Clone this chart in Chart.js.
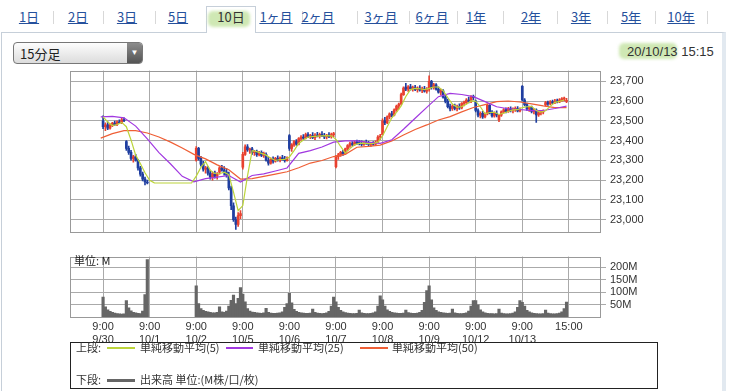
<!DOCTYPE html>
<html lang="ja">
<head>
<meta charset="utf-8">
<title>10日 15分足</title>
<script src="https://cdn.jsdelivr.net/npm/chart.js@4.4.1/dist/chart.umd.min.js"></script>
<style>
  html, body { margin:0; padding:0; background:#fff; }
  body { position:relative; width:738px; height:391px; overflow:hidden;
         font-family:"Liberation Sans","Noto Sans CJK JP",sans-serif; color:#333; }
  .abs { position:absolute; white-space:nowrap; }
  #panel { position:absolute; left:1px; top:32px; width:725px; height:380px; border:1px solid #c6cfd9;
           border-right:4px solid #e2e9f0; box-sizing:border-box; }
  #activeTab { position:absolute; left:206px; top:6px; width:50px; height:27px; border:1px solid #c6cfd9;
               border-bottom:none; background:#fff; box-sizing:border-box; }
  .hl { position:absolute; background:#cfe8b4; border-radius:5px; filter:blur(1.5px); }
  .tab { position:absolute; top:8px; font:13px/18px "Noto Sans CJK JP",sans-serif; color:#25509c;
         text-decoration:underline; transform:translateX(-50%); white-space:nowrap; }
  .tab.on { color:#333; text-decoration:none; }
  .sep { position:absolute; top:11px; width:1px; height:13px; background:#d8d8d8; }
  #select { position:absolute; left:13px; top:42px; width:130px; height:22px; border:1px solid #777;
            border-radius:4px; background:linear-gradient(#fdfdfd,#dcdcdc); box-sizing:border-box; overflow:hidden; }
  #select .txt { position:absolute; left:6px; top:1px; font:13px/19px "Noto Sans CJK JP",sans-serif; color:#222; }
  #select .btn { position:absolute; right:0; top:0; width:15px; height:100%; background:linear-gradient(#8c8c8c,#545454);
                 color:#fff; font:8px/20px sans-serif; text-align:center; }
  #stamp { left:627px; top:44px; font:13px/16px "Liberation Sans",sans-serif; color:#333; }
  canvas { position:absolute; left:0; }
  #legend { position:absolute; left:70px; top:342px; width:588px; height:47px; border:1px solid #222; box-sizing:border-box; }
  .lg { position:absolute; font:11px/13px "Noto Sans CJK JP",sans-serif; color:#333; white-space:nowrap; }
  .ln { position:absolute; display:block; height:2px; }
  #unit { position:absolute; left:74px; top:254px; font:11px/13px "Noto Sans CJK JP",sans-serif; color:#222; }
</style>
</head>
<body>
<div id="panel"></div>
<div id="activeTab"></div>
<div class="hl" style="left:208px;top:11px;width:42px;height:16px"></div>
<span class="tab" style="left:29px">1日</span>
<span class="sep" style="left:53px"></span>
<span class="tab" style="left:78px">2日</span>
<span class="sep" style="left:103px"></span>
<span class="tab" style="left:127px">3日</span>
<span class="sep" style="left:155px"></span>
<span class="tab" style="left:178px">5日</span>
<span class="tab on" style="left:231px">10日</span>
<span class="tab" style="left:276px">1ヶ月</span>
<span class="sep" style="left:302px"></span>
<span class="tab" style="left:318px">2ヶ月</span>
<span class="sep" style="left:357px"></span>
<span class="tab" style="left:381px">3ヶ月</span>
<span class="sep" style="left:409px"></span>
<span class="tab" style="left:432px">6ヶ月</span>
<span class="sep" style="left:457px"></span>
<span class="tab" style="left:476px">1年</span>
<span class="sep" style="left:503px"></span>
<span class="tab" style="left:531px">2年</span>
<span class="sep" style="left:557px"></span>
<span class="tab" style="left:581px">3年</span>
<span class="sep" style="left:607px"></span>
<span class="tab" style="left:631px">5年</span>
<span class="sep" style="left:655px"></span>
<span class="tab" style="left:681px">10年</span>
<span class="sep" style="left:707px"></span>

<div id="select"><span class="txt">15分足</span><span class="btn">▼</span></div>
<div class="hl" style="left:619px;top:43px;width:58px;height:16px"></div>
<span id="stamp" class="abs">20/10/13 15:15</span>

<canvas id="price" width="738" height="183" style="top:60px"></canvas>
<canvas id="vol" width="738" height="100" style="top:246px"></canvas>
<span id="unit">単位: M</span>

<div id="legend"></div>
<span class="lg" style="left:76px;top:341px">上段:</span>
<span class="ln" style="left:107px;top:347px;width:28px;background:#bcd43a"></span>
<span class="lg" style="left:140px;top:341px">単純移動平均(5)</span>
<span class="ln" style="left:226px;top:347px;width:27px;background:#a138e0"></span>
<span class="lg" style="left:258px;top:341px">単純移動平均(25)</span>
<span class="ln" style="left:360px;top:347px;width:28px;background:#ef5f36"></span>
<span class="lg" style="left:392px;top:341px">単純移動平均(50)</span>
<span class="lg" style="left:76px;top:373px">下段:</span>
<span class="ln" style="left:107px;top:379px;width:28px;height:3px;background:#666"></span>
<span class="lg" style="left:140px;top:373px">出来高 単位:(M株/口/枚)</span>

<script>
// 15-minute bars, 20 per day (10 morning + 10 afternoon). 10/1 had no trading.
const dayLabels = ['9/30', '10/1', '10/2', '10/5', '10/6', '10/7', '10/8', '10/9', '10/12', '10/13'];
const tradeDays = [0, 2, 3, 4, 5, 6, 7, 8, 9]; // day slot of each trading day
const barsPerDay = 20;
const tickSlots = [0, 20, 40, 60, 80, 100, 120, 140, 160, 180, 200];
const tickLabels = [['9:00', '9/30'], ['9:00', '10/1'], ['9:00', '10/2'], ['9:00', '10/5'], ['9:00', '10/6'],
  ['9:00', '10/7'], ['9:00', '10/8'], ['9:00', '10/9'], ['9:00', '10/12'], ['9:00', '10/13'], ['15:00', '']];
const priceTicks = [23000, 23100, 23200, 23300, 23400, 23500, 23600, 23700];
const volTicks = [50, 100, 150, 200];

const openP = [
  23500,23470,23480,23462,23478,23488,23480,23495,23490,23505, 23395,23360,23340,23310,23318,23300,23262,23230,23205,23190,
  23300,23360,23310,23280,23255,23262,23235,23215,23232,23220, 23240,23262,23250,23240,23225,23160,23070,23000,22975,23020,
  23265,23330,23368,23352,23358,23338,23345,23328,23340,23325, 23330,23300,23285,23305,23295,23310,23300,23312,23305,23298,
  23425,23360,23378,23395,23382,23410,23418,23412,23430,23420, 23425,23415,23428,23422,23432,23425,23418,23428,23420,23430,
  23268,23318,23328,23340,23335,23358,23375,23385,23380,23392, 23390,23385,23380,23390,23386,23380,23388,23382,23392,23418,
  23430,23500,23490,23520,23535,23528,23555,23575,23585,23632, 23670,23660,23672,23662,23668,23658,23665,23655,23662,23650,
  23660,23700,23668,23682,23660,23645,23652,23620,23598,23572, 23562,23575,23562,23572,23565,23588,23592,23605,23598,23620,
  23600,23552,23528,23538,23520,23535,23578,23540,23525,23538, 23505,23528,23545,23555,23548,23560,23552,23558,23562,23550,
  23675,23605,23582,23560,23568,23548,23555,23530,23540,23545, 23580,23592,23585,23596,23590,23600,23596,23606,23610,23598
];
const highP = [
  23525,23490,23495,23485,23492,23498,23500,23505,23512,23515, 23400,23372,23350,23325,23330,23305,23270,23240,23215,23200,
  23370,23365,23320,23295,23270,23268,23250,23240,23245,23238, 23268,23275,23268,23258,23240,23170,23085,23012,23035,23045,
  23340,23378,23380,23362,23365,23350,23352,23345,23348,23342, 23338,23315,23312,23318,23315,23322,23318,23325,23320,23318,
  23430,23385,23400,23405,23415,23425,23430,23438,23440,23432, 23440,23435,23442,23438,23445,23436,23432,23440,23438,23442,
  23325,23335,23345,23350,23362,23380,23392,23395,23398,23402, 23400,23398,23395,23402,23396,23392,23395,23398,23425,23432,
  23510,23518,23525,23540,23548,23560,23580,23590,23640,23672, 23690,23678,23684,23676,23680,23672,23678,23670,23675,23668,
  23728,23705,23690,23688,23672,23660,23658,23630,23610,23585, 23582,23585,23580,23586,23592,23600,23612,23620,23628,23630,
  23605,23560,23545,23548,23540,23585,23582,23552,23545,23550, 23532,23550,23562,23565,23568,23570,23565,23570,23572,23565,
  23678,23612,23590,23575,23575,23562,23560,23548,23552,23555, 23598,23600,23602,23605,23608,23610,23612,23618,23620,23614
];
const lowP = [
  23460,23450,23455,23458,23470,23476,23475,23485,23486,23495, 23350,23330,23300,23290,23295,23250,23220,23195,23175,23180,
  23295,23300,23270,23245,23235,23225,23205,23200,23210,23205, 23230,23245,23225,23215,23150,23050,22990,22950,22965,23005,
  23255,23325,23345,23335,23330,23325,23320,23322,23318,23315, 23295,23275,23280,23285,23290,23295,23292,23300,23290,23295,
  23350,23345,23370,23375,23378,23400,23405,23408,23415,23410, 23410,23405,23418,23412,23420,23410,23408,23415,23412,23420,
  23262,23305,23320,23325,23330,23350,23365,23372,23375,23380, 23378,23372,23375,23380,23374,23370,23375,23378,23388,23405,
  23428,23480,23485,23510,23520,23525,23548,23560,23580,23628, 23652,23648,23655,23650,23652,23645,23650,23642,23645,23640,
  23650,23660,23660,23655,23640,23630,23615,23590,23565,23550, 23552,23555,23550,23558,23560,23575,23585,23590,23592,23605,
  23545,23520,23515,23512,23515,23530,23535,23518,23518,23520, 23495,23522,23538,23540,23542,23545,23540,23548,23545,23545,
  23600,23575,23552,23548,23540,23535,23492,23522,23530,23535, 23575,23578,23580,23585,23586,23590,23592,23598,23600,23592
];
const closeP = [
  23470,23480,23462,23478,23488,23480,23495,23490,23505,23500, 23360,23340,23310,23318,23300,23262,23230,23205,23190,23185,
  23360,23310,23280,23255,23262,23235,23215,23232,23220,23230, 23262,23250,23240,23225,23160,23070,23000,22975,23020,23030,
  23330,23368,23352,23358,23338,23345,23328,23340,23325,23335, 23300,23285,23305,23295,23310,23300,23312,23305,23298,23312,
  23360,23378,23395,23382,23410,23418,23412,23430,23420,23425, 23415,23428,23422,23432,23425,23418,23428,23420,23430,23433,
  23318,23328,23340,23335,23358,23375,23385,23380,23392,23388, 23385,23380,23390,23386,23380,23388,23382,23392,23418,23422,
  23500,23490,23520,23535,23528,23555,23575,23585,23632,23665, 23660,23672,23662,23668,23658,23665,23655,23662,23650,23655,
  23700,23668,23682,23660,23645,23652,23620,23598,23572,23560, 23575,23562,23572,23565,23588,23592,23605,23598,23620,23618,
  23552,23528,23538,23520,23535,23578,23540,23525,23538,23530, 23528,23545,23555,23548,23560,23552,23558,23562,23550,23558,
  23605,23582,23560,23568,23548,23555,23530,23540,23545,23548, 23592,23585,23596,23590,23600,23596,23606,23610,23612,23604
];
// volume in millions of shares
const volume = [
  80,42,30,24,20,17,15,14,13,14, 67,38,26,20,18,16,15,25,90,230,
  125,55,35,28,24,22,20,18,18,20, 42,22,20,25,45,68,88,55,75,118,
  92,62,35,25,21,20,18,17,16,18, 36,20,17,16,16,17,18,22,40,55,
  95,58,32,24,20,18,17,16,16,17, 33,20,17,16,15,16,18,24,45,80,
  62,40,28,22,19,17,16,15,15,16, 29,18,16,15,15,16,18,22,45,85,
  70,45,30,24,20,18,17,16,16,17, 29,19,17,16,16,17,20,28,60,106,
  125,70,38,28,22,20,18,17,16,17, 33,18,16,15,15,16,18,25,45,67,
  67,50,30,22,18,16,15,15,14,15, 33,17,15,14,14,15,17,22,40,67,
  60,45,28,22,18,16,15,14,14,15, 29,17,15,14,14,15,17,22,35,61
];
// simple moving averages: ma5 every 2 bars from slot 0,
// ma25 / ma50 every 5 bars from slot -1
const ma5 = [
  23520,23494,23476,23481,23492,23470,23403,23326,23284,23237,
  23199,23186,23185,23185,23185,23185,23185,23185,23185,23185,
  23220,23264,23293,23249,23233,23232,23240,23227,23139,23045,
  23071,23220,23349,23344,23335,23326,23310,23299,23304,23305,
  23317,23349,23385,23403,23418,23420,23422,23424,23425,23424,
  23406,23370,23336,23359,23378,23386,23387,23384,23385,23392,
  23423,23470,23515,23543,23575,23623,23658,23664,23662,23658,
  23664,23671,23671,23652,23617,23585,23568,23572,23584,23601,
  23599,23571,23535,23542,23543,23532,23539,23547,23555,23556,
  23567,23571,23573,23552,23544,23551,23573,23593,23598,23605
];
const ma25 = [
  23520,23522,23515,23473,23408,23339,23281,23219,23191,23207,
  23215,23223,23190,23223,23231,23246,23261,23335,23349,23367,
  23392,23398,23398,23391,23386,23404,23457,23513,23568,23622,
  23639,23633,23622,23597,23571,23561,23557,23551,23552,23562,
  23574
];
const ma50 = [
  23412,23435,23450,23450,23438,23418,23392,23362,23330,23307,
  23277,23252,23205,23207,23219,23230,23242,23262,23286,23299,
  23319,23330,23366,23370,23377,23398,23428,23456,23479,23504,
  23521,23545,23567,23582,23597,23600,23595,23586,23575,23567,
  23567
];

const upColor = '#e8412f';
const downColor = '#1f3ea0';
const gridColor = '#aaaaaa';
const tickFont = { family: 'Liberation Sans', size: 11 };

const slotOf = i => tradeDays[Math.floor(i / barsPerDay)] * barsPerDay + i % barsPerDay;
const candleColors = openP.map((o, i) => closeP[i] >= o ? upColor : downColor);
const bodies = openP.map((o, i) => ({ x: slotOf(i), y: [o, closeP[i]] }));
const wicks = lowP.map((l, i) => ({ x: slotOf(i), y: [l, highP[i]] }));
const volBars = volume.map((v, i) => ({ x: slotOf(i), y: v }));

const maLine = (vals, step, start, color) => ({
  type: 'line',
  data: vals.map((v, i) => ({ x: start + i * step, y: v })),
  borderColor: color, borderWidth: 1.2, pointRadius: 0, tension: 0, order: 1
});

// outline around the plot area
const boxPlugin = {
  id: 'box',
  afterDraw(chart) {
    const a = chart.chartArea, c = chart.ctx;
    c.save();
    c.strokeStyle = '#999';
    c.lineWidth = 1;
    c.strokeRect(Math.round(a.left) + 0.5, Math.round(a.top) + 0.5,
      Math.round(a.right - a.left) - 1, Math.round(a.bottom - a.top) - 1);
    c.restore();
  }
};

const xScale = (showLabels) => ({
  type: 'linear', min: -14.2, max: 213.8, offset: false,
  grid: { offset: false, color: gridColor, drawTicks: false },
  border: { display: false },
  ticks: {
    display: showLabels, autoSkip: false, maxRotation: 0, padding: 2,
    color: '#333', font: tickFont,
    callback: (v, i) => tickLabels[i]
  },
  afterBuildTicks: s => { s.ticks = tickSlots.map(v => ({ value: v })); },
  afterFit: s => { s.height = showLabels ? 28 : 0; }
});

new Chart(document.getElementById('price'), {
  type: 'bar',
  data: {
    datasets: [
      maLine(ma5, 2, 0, '#bcd43a'),
      maLine(ma25, 5, -1, '#a138e0'),
      maLine(ma50, 5, -1, '#ef5f36'),
      { data: bodies, backgroundColor: candleColors, barThickness: 2, minBarLength: 1, grouped: false, order: 2 },
      { data: wicks, backgroundColor: candleColors, barThickness: 1, grouped: false, order: 3 }
    ]
  },
  options: {
    responsive: false, animation: false, devicePixelRatio: 1,
    layout: { padding: { left: 70, top: 7, right: 0, bottom: 0 } },
    plugins: { legend: { display: false }, tooltip: { enabled: false } },
    scales: {
      x: xScale(false),
      y: {
        position: 'right', min: 22935, max: 23754,
        grid: { color: gridColor, tickLength: 5 },
        border: { display: false },
        ticks: { padding: 4, color: '#333', font: tickFont, callback: v => v.toLocaleString('en-US') },
        afterBuildTicks: s => { s.ticks = priceTicks.map(v => ({ value: v })); },
        afterFit: s => { s.width = 137; }
      }
    }
  },
  plugins: [boxPlugin]
});

new Chart(document.getElementById('vol'), {
  type: 'bar',
  data: {
    datasets: [
      { data: volBars, backgroundColor: '#666', barThickness: 2.5, grouped: false }
    ]
  },
  options: {
    responsive: false, animation: false, devicePixelRatio: 1,
    layout: { padding: { left: 70, top: 8, right: 0, bottom: 0 } },
    plugins: { legend: { display: false }, tooltip: { enabled: false } },
    scales: {
      x: xScale(true),
      y: {
        position: 'right', min: -3, max: 242,
        grid: { color: gridColor, tickLength: 5 },
        border: { display: false },
        ticks: { padding: 4, color: '#333', font: tickFont, callback: v => v + 'M' },
        afterBuildTicks: s => { s.ticks = volTicks.map(v => ({ value: v })); },
        afterFit: s => { s.width = 137; }
      }
    }
  },
  plugins: [boxPlugin]
});
</script>
</body>
</html>
